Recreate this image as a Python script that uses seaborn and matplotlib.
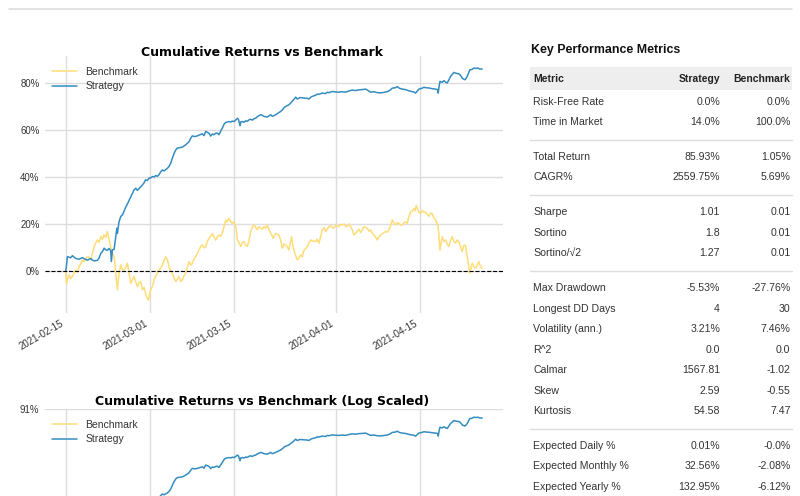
import matplotlib
matplotlib.use("Agg")
import numpy as np
import pandas as pd
import matplotlib.pyplot as plt
import seaborn as sns
from matplotlib.ticker import FuncFormatter, FixedLocator
import matplotlib.dates as mdates

# ---------------- data ----------------
start_date = "2021-02-15"

strategy_days = [0, 0.27, 0.8, 1.1, 1.66, 2.22, 2.77, 3.05, 3.6, 4.16, 4.44, 4.72, 5.27, 5.55, 5.83, 6.1,
                 6.38, 6.66, 6.94, 7.22, 7.49, 7.6, 7.77, 8.05, 8.33, 8.5, 8.6, 8.88, 9.16, 9.44, 9.72,
                 9.99, 10.27, 10.55, 10.83, 11.1, 11.38, 11.66, 11.94, 12.2, 12.5, 12.77, 13.05, 13.3,
                 13.6, 13.88, 14.16, 14.44, 14.72, 15.0, 15.27, 15.55, 15.83, 16.1, 16.38, 16.94, 17.22,
                 17.5, 17.77, 18.05, 18.33, 18.6, 19.0, 19.44, 19.99, 20.55, 20.83, 21.1, 21.5, 21.94,
                 22.2, 22.77, 23.05, 23.33, 23.88, 24.16, 24.44, 24.72, 25.0, 25.27, 25.55, 25.83, 26.1,
                 26.4, 26.66, 27.2, 27.5, 27.77, 28.05, 28.33, 28.6, 28.8, 29.05, 29.2, 29.44, 29.72,
                 30.0, 30.27, 30.55, 30.83, 31.1, 31.38, 31.66, 32.0, 32.5, 32.8, 33.05, 33.6, 34.16,
                 34.44, 35.0, 35.3, 35.83, 36.1, 36.4, 36.66, 37.2, 37.5, 37.77, 38.05, 38.33, 38.6,
                 38.88, 39.16, 39.72, 40.27, 40.55, 40.83, 41.1, 41.66, 41.94, 42.2, 42.77, 43.33, 43.6,
                 43.88, 44.44, 45.0, 45.55, 46.1, 46.66, 47.2, 47.77, 48.3, 48.88, 49.4, 50.0, 50.27,
                 50.83, 51.38, 51.94, 52.5, 53.0, 53.6, 54.1, 54.44, 55.0, 55.27, 55.6, 56.1, 56.66,
                 57.2, 57.77, 58.05, 58.33, 58.6, 58.88, 59.44, 59.72, 60.0, 60.55, 61.1, 61.66, 62.0,
                 62.1, 62.25, 62.4, 62.77, 63.05, 63.33, 63.6, 63.88, 64.16, 64.44, 64.72, 65.0, 65.55,
                 65.83, 66.1, 66.5, 66.66, 66.94, 67.2, 67.38, 67.77, 68.05, 68.4, 68.72, 69.0, 69.44]
strategy_pct = [0, 6.1, 5.6, 6.5, 5.3, 5.0, 5.7, 5.2, 4.6, 5.3, 4.6, 4.3, 4.5, 5.5, 7.5, 8.2,
                9.7, 9.0, 8.8, 9.6, 8.5, 4.0, 9.0, 9.2, 14.5, 18.2, 16.0, 21.0, 23.2, 23.8, 25.5,
                27.2, 28.5, 30.0, 31.5, 33.0, 34.5, 35.2, 34.3, 35.0, 35.8, 36.6, 37.5, 38.8,
                38.5, 39.5, 39.6, 40.2, 40.0, 40.6, 40.3, 41.0, 42.2, 43.0, 42.6, 43.7, 44.5,
                45.9, 48.0, 50.0, 51.5, 52.3, 52.5, 52.7, 53.7, 55.0, 56.5, 57.5, 57.2, 57.5,
                57.8, 58.4, 57.6, 59.4, 58.6, 57.4, 58.3, 58.0, 58.6, 58.7, 58.0, 59.5, 60.8,
                62.5, 63.2, 63.6, 63.4, 63.8, 63.6, 64.2, 65.0, 64.5, 61.8, 63.5, 63.6, 63.3,
                63.9, 63.7, 64.3, 64.6, 64.2, 64.8, 65.0, 65.8, 66.5, 66.2, 65.8, 65.5, 66.5,
                65.8, 66.5, 67.0, 67.9, 68.5, 69.5, 70.0, 70.7, 71.5, 72.2, 73.0, 74.0, 73.2,
                73.6, 73.8, 73.6, 73.5, 73.2, 73.9, 74.3, 74.8, 75.3, 75.2, 75.7, 75.5, 76.1,
                75.9, 76.4, 76.2, 76.1, 76.3, 76.1, 76.6, 77.0, 76.8, 77.1, 77.2, 77.4, 77.0,
                76.1, 76.3, 75.9, 75.8, 76.0, 76.3, 77.0, 77.8, 78.0, 78.5, 77.8, 77.4, 77.2,
                76.7, 76.3, 76.2, 75.7, 76.5, 77.4, 77.8, 78.2, 78.0, 77.9, 77.6, 77.4, 77.2,
                75.7, 78.5, 80.7, 80.3, 81.0, 80.4, 80.0, 81.3, 82.8, 83.6, 84.5, 84.2, 83.9,
                83.3, 82.1, 81.4, 81.6, 82.8, 84.5, 85.6, 85.8, 86.4, 86.2, 86.4, 86.0, 85.93]

benchmark_days = [0, 0.1, 0.3, 0.55, 0.8, 1.1, 1.38, 1.66, 1.9, 2.22, 2.5, 2.77, 3.05, 3.33, 3.7, 4.16,
                  4.44, 4.72, 5.0, 5.27, 5.55, 5.83, 6.1, 6.38, 6.66, 6.94, 7.22, 7.49, 7.77, 8.05,
                  8.2, 8.33, 8.6, 8.75, 8.88, 9.16, 9.44, 9.72, 9.99, 10.27, 10.55, 10.83, 11.1, 11.38,
                  11.66, 11.94, 12.2, 12.5, 12.77, 13.05, 13.44, 13.77, 14.16, 14.44, 14.72, 15.0,
                  15.27, 15.55, 15.83, 16.1, 16.38, 16.66, 16.94, 17.22, 17.5, 17.77, 18.05, 18.33,
                  18.6, 18.88, 19.16, 19.44, 19.7, 19.99, 20.27, 20.55, 20.83, 21.1, 21.38, 21.66,
                  21.94, 22.2, 22.5, 22.77, 23.05, 23.33, 23.6, 23.88, 24.16, 24.44, 24.72, 25.0,
                  25.27, 25.55, 25.83, 26.1, 26.4, 26.66, 26.9, 27.2, 27.5, 27.77, 28.05, 28.33, 28.5,
                  28.6, 28.9, 29.16, 29.44, 29.72, 30.0, 30.27, 30.55, 30.83, 31.1, 31.38, 31.66,
                  31.94, 32.2, 32.5, 32.8, 33.05, 33.33, 33.6, 33.88, 34.3, 34.6, 35.0, 35.3, 35.55,
                  35.83, 36.1, 36.4, 36.66, 36.9, 37.2, 37.66, 37.85, 38.05, 38.33, 38.6, 38.88, 39.16,
                  39.44, 39.72, 40.0, 40.27, 40.55, 40.83, 41.1, 41.66, 41.94, 42.2, 42.5, 42.77, 43.05,
                  43.33, 43.6, 43.88, 44.16, 44.44, 44.72, 45.0, 45.55, 45.83, 46.1, 46.4, 46.66, 46.94,
                  47.2, 47.5, 47.77, 48.05, 48.3, 48.6, 48.88, 49.16, 49.44, 49.72, 50.0, 50.27, 50.55,
                  50.83, 51.1, 51.38, 51.66, 51.94, 52.2, 52.5, 52.9, 53.33, 53.6, 53.88, 54.2, 54.44,
                  54.7, 55.0, 55.27, 55.55, 55.83, 56.1, 56.4, 56.66, 56.94, 57.2, 57.5, 57.77, 58.05,
                  58.25, 58.44, 58.66, 58.88, 59.16, 59.44, 59.72, 60.0, 60.27, 60.55, 60.83, 61.1,
                  61.38, 61.66, 61.94, 62.1, 62.3, 62.4, 62.6, 62.77, 63.05, 63.33, 63.6, 63.88, 64.16,
                  64.44, 64.72, 65.0, 65.27, 65.55, 65.83, 66.1, 66.38, 66.66, 66.94, 67.15, 67.38,
                  67.6, 67.77, 68.05, 68.33, 68.6, 68.88, 69.1, 69.44]
benchmark_pct = [-0.5, -5.3, -3.5, -1.7, -3.2, -2.4, -0.8, 0.4, -0.5, 1.8, 3.0, 4.7, 4.0, 5.4, 6.2, 4.7,
                 7.5, 10.4, 12.0, 13.2, 12.2, 14.6, 13.5, 15.3, 14.2, 16.8, 13.2, 10.4, 7.5, 6.0,
                 3.0, -1.0, -8.0, -4.0, -1.0, 2.6, 0.5, 0.4, 1.5, 3.3, -1.0, -5.3, -3.8, -2.4,
                 -4.5, -6.7, -5.0, -4.6, -8.0, -7.0, -11.0, -12.4, -8.0, -6.5, -3.8, -2.0,
                 -1.0, 0.5, 1.1, 2.5, 4.5, 6.0, 4.7, 1.8, 0.0, -1.0, -3.0, -4.5,
                 -3.5, -2.4, -4.5, -3.8, -2.0, -1.0, 1.5, 4.0, 2.5, 3.3, 5.0, 6.1,
                 7.5, 8.9, 10.5, 11.1, 9.8, 10.4, 12.5, 13.9, 14.8, 16.0, 14.5, 13.2,
                 14.5, 15.3, 14.8, 16.0, 19.0, 21.7, 20.8, 22.4, 21.0, 20.3, 21.0, 18.9, 16.0,
                 13.2, 12.0, 10.4, 12.0, 12.5, 11.0, 10.4, 13.0, 16.8, 18.5, 19.6, 18.6,
                 17.5, 18.8, 18.2, 17.8, 18.9, 18.2, 19.6, 17.5, 15.5, 13.9, 16.0, 15.5, 15.3,
                 13.0, 9.7, 11.5, 11.1, 10.5, 8.9, 14.6, 11.0, 8.9, 6.5, 4.7, 5.5, 6.8,
                 6.0, 8.9, 9.5, 10.4, 12.0, 13.2, 12.8, 12.5, 13.5, 11.8, 14.5, 17.5, 18.5,
                 16.8, 17.8, 18.9, 19.2, 18.5, 18.2, 19.5, 18.9, 19.8, 19.6, 20.0, 18.9, 18.9,
                 20.0, 18.9, 17.5, 15.3, 16.0, 16.8, 17.8, 16.3, 17.5, 18.9, 18.5, 18.2, 17.0,
                 17.5, 16.0, 15.3, 14.5, 13.2, 14.5, 15.3, 16.0, 16.8, 16.5, 17.5, 19.5, 21.7,
                 20.5, 19.6, 20.5, 20.3, 19.5, 19.6, 20.5, 20.9, 20.3, 23.0, 25.1, 25.5, 26.5,
                 25.5, 27.9, 26.5, 25.1, 24.5, 25.8, 25.0, 25.1, 24.0, 23.3, 24.6, 24.4,
                 22.5, 22.0, 20.0, 18.9, 12.0, 8.9, 12.0, 14.6, 12.5, 13.2, 11.5, 10.4, 12.8,
                 14.6, 12.5, 11.8, 13.2, 12.5, 10.4, 8.2, 11.0, 10.8, 6.1, 3.0, -1.0,
                 1.5, 3.3, 1.8, 1.1, 2.5, 4.0, 2.2, 1.05]

x_tick_labels = ["2021-02-15", "2021-03-01", "2021-03-15", "2021-04-01", "2021-04-15"]
main_y_ticks = [0, 20, 40, 60, 80]
log_y_ticks = [91]
series_names = ["Benchmark", "Strategy"]
series_colors = ["#fedd78", "#348dc1"]
chart_titles = ["Cumulative Returns vs Benchmark", "Cumulative Returns vs Benchmark (Log Scaled)"]

table_title = "Key Performance Metrics"
table_header = ["Metric", "Strategy", "Benchmark"]
metric_blocks = [
    ["Risk-Free Rate", "Time in Market"],
    ["Total Return", "CAGR%"],
    ["Sharpe", "Sortino", "Sortino/\u221a2"],
    ["Max Drawdown", "Longest DD Days", "Volatility (ann.)", "R^2", "Calmar", "Skew", "Kurtosis"],
    ["Expected Daily %", "Expected Monthly %", "Expected Yearly %"],
]
strategy_blocks = [
    ["0.0%", "14.0%"],
    ["85.93%", "2559.75%"],
    ["1.01", "1.8", "1.27"],
    ["-5.53%", "4", "3.21%", "0.0", "1567.81", "2.59", "54.58"],
    ["0.01%", "32.56%", "132.95%"],
]
benchmark_blocks = [
    ["0.0%", "100.0%"],
    ["1.05%", "5.69%"],
    ["0.01", "0.01", "0.01"],
    ["-27.76%", "30", "7.46%", "0.0", "-1.02", "-0.55", "7.47"],
    ["-0.0%", "-2.08%", "-6.12%"],
]

# ---------------- build data frame ----------------
t0 = pd.Timestamp(start_date)
df = pd.concat([
    pd.DataFrame({"date": t0 + pd.to_timedelta(benchmark_days, unit="D"),
                  "value": benchmark_pct, "series": series_names[0]}),
    pd.DataFrame({"date": t0 + pd.to_timedelta(strategy_days, unit="D"),
                  "value": strategy_pct, "series": series_names[1]}),
], ignore_index=True)

sns.set_theme(style="white")
plt.rcParams["font.family"] = ["Liberation Sans", "DejaVu Sans"]

W, H = 800, 496
fig = plt.figure(figsize=(W / 100, H / 100), dpi=100)

def fx(px):
    return px / W

def fy(py):
    return 1 - py / H

ax_left, ax_right = 45, 503
ax_h = 257
ax1 = fig.add_axes([fx(ax_left), fy(56 + ax_h), fx(ax_right - ax_left), ax_h / H])
ax2 = fig.add_axes([fx(ax_left), fy(409 + ax_h), fx(ax_right - ax_left), ax_h / H])

tick_color = "#333333"
grid_color = "#dddddd"
pal = dict(zip(series_names, series_colors))

for ax, ylims, yt in [(ax1, (-17.9, 91.5), main_y_ticks), (ax2, (-54.0, 91.0), log_y_ticks)]:
    sns.lineplot(data=df, x="date", y="value", hue="series", hue_order=series_names,
                 palette=pal, estimator=None, lw=1.1, ax=ax, legend=False)
    ax.axhline(0, ls="--", lw=0.8, color="#000000", zorder=2)
    ax.set_ylim(*ylims)
    ax.margins(x=0.05)
    ax.yaxis.set_major_locator(FixedLocator(yt))
    ax.yaxis.set_major_formatter(FuncFormatter(lambda v, p: f"{v:.0f}%"))
    ax.xaxis.set_major_locator(FixedLocator([mdates.date2num(pd.Timestamp(s)) for s in x_tick_labels]))
    ax.xaxis.set_major_formatter(mdates.DateFormatter("%Y-%m-%d"))
    ax.grid(True, color=grid_color, lw=1.0)
    ax.set_axisbelow(True)
    for s in ax.spines.values():
        s.set_visible(False)
    ax.tick_params(axis="both", length=0, labelsize=6.9, colors=tick_color, pad=4)
    ax.set_xlabel("")
    ax.set_ylabel("")
    for lab in ax.get_xticklabels():
        lab.set_rotation(30)
        lab.set_ha("right")
    handles = [plt.Line2D([], [], color=c, lw=1.1) for c in series_colors]
    ax.legend(handles, series_names, loc="upper left", frameon=False, fontsize=7.5,
              bbox_to_anchor=(0.0, 0.987), handlelength=2.4, labelcolor=tick_color,
              borderaxespad=0.3, labelspacing=0.45)

ax2.tick_params(axis="x", labelbottom=False)

fig.text(fx(262), fy(52.5), chart_titles[0], ha="center", va="center", fontsize=9,
         fontweight="bold", family="DejaVu Sans", color="black")
fig.text(fx(262), fy(401.5), chart_titles[1], ha="center", va="center", fontsize=9,
         fontweight="bold", family="DejaVu Sans", color="black")

# top rule
fig.add_artist(plt.Line2D([fx(9), fx(792)], [fy(9), fy(9)], color="#dddddd", lw=1.2))

# ---------------- metrics table ----------------
tbl_l, tbl_r = 530, 792
col_strat_r, col_bench_r, col_metric_l = 720, 790.5, 533
txt_size = 7.6
txt_color = "#333333"

fig.text(fx(531), fy(50.5), table_title, ha="left", va="center", fontsize=8.9,
         fontweight="bold", color="#111111")
fig.add_artist(plt.Rectangle((fx(tbl_l), fy(90)), fx(tbl_r - tbl_l), (90 - 67.3) / H,
                             color="#eeeeee", lw=0))
hdr_y = 79.3
fig.text(fx(col_metric_l), fy(hdr_y), table_header[0], ha="left", va="center",
         fontsize=7.5, fontweight="bold", color="#222222")
fig.text(fx(col_strat_r), fy(hdr_y), table_header[1], ha="right", va="center",
         fontsize=7.5, fontweight="bold", color="#222222")
fig.text(fx(col_bench_r), fy(hdr_y), table_header[2], ha="right", va="center",
         fontsize=7.5, fontweight="bold", color="#222222")

y = 101.7
row_step = 20.5
for bi, (names, svals, bvals) in enumerate(zip(metric_blocks, strategy_blocks, benchmark_blocks)):
    for name, sv, bv in zip(names, svals, bvals):
        fig.text(fx(col_metric_l), fy(y), name, ha="left", va="center", fontsize=txt_size, color=txt_color)
        fig.text(fx(col_strat_r), fy(y), sv, ha="right", va="center", fontsize=txt_size, color=txt_color)
        fig.text(fx(col_bench_r), fy(y), bv, ha="right", va="center", fontsize=txt_size, color=txt_color)
        y += row_step
    if bi < len(metric_blocks) - 1:
        sep = y - row_step + 17.6
        fig.add_artist(plt.Line2D([fx(tbl_l), fx(tbl_r)], [fy(sep), fy(sep)], color="#dddddd", lw=1.0))
        y = sep + 17.2

fig.savefig("out.png", dpi=100)
